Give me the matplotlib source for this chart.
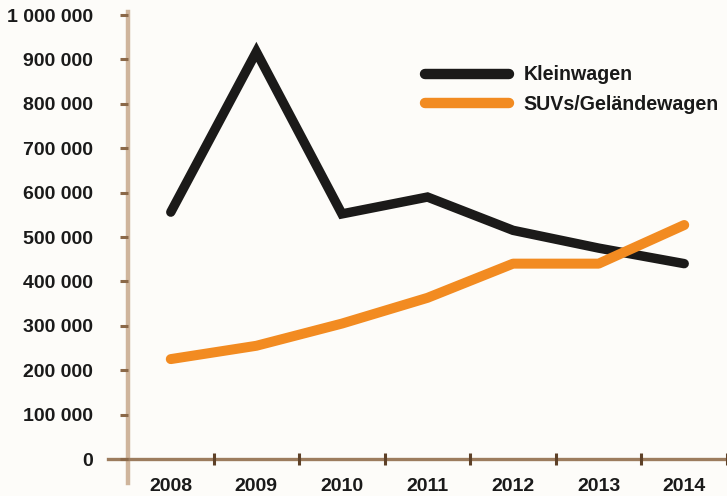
import matplotlib.pyplot as plt
from matplotlib.ticker import FuncFormatter

years = [2008, 2009, 2010, 2011, 2012, 2013, 2014]
kleinwagen = [556000, 917000, 552000, 590000, 515000, 475000, 440000]
suv = [225000, 255000, 305000, 363000, 440000, 440000, 527000]
labels = ['Kleinwagen', 'SUVs/Geländewagen']

plt.rcParams['font.family'] = ['Liberation Sans', 'DejaVu Sans']

bg = '#fdfcf9'
fig = plt.figure(figsize=(7.27, 4.96), dpi=100, facecolor=bg)
ax = fig.add_axes([128 / 727, 37 / 496, 599 / 727, 444 / 496])
ax.set_facecolor(bg)

l1, = ax.plot(years, kleinwagen, color='#1b1a19', lw=6.8,
              solid_capstyle='round', solid_joinstyle='miter')
l2, = ax.plot(years, suv, color='#f28b21', lw=7.2,
              solid_capstyle='round', solid_joinstyle='round')

ax.set_xlim(2007.5, 2014.5)
ax.set_ylim(0, 1000000)

for s in ax.spines.values():
    s.set_visible(False)
# axis lines, crossing at origin
ax.plot([0, 0], [-0.054, 1.007], transform=ax.transAxes, clip_on=False,
        color='#cfb59c', lw=3.2, zorder=1)
ax.plot([-0.033, 1.0], [0, 0], transform=ax.transAxes, clip_on=False,
        color='#9c7c5e', lw=2.4, zorder=1)

ax.set_yticks(range(0, 1000001, 100000))
ax.yaxis.set_major_formatter(FuncFormatter(lambda v, p: f'{int(v):,}'.replace(',', ' ')))
ax.tick_params(axis='y', direction='out', length=6, width=2.2, color='#8a6848',
               pad=19, labelsize=14, labelcolor='#1a1a1a')

ax.set_xticks(years)
ax.set_xticks([y + 0.5 for y in years], minor=True)
ax.tick_params(axis='x', which='major', length=0, pad=14, labelsize=14,
               labelcolor='#1a1a1a')
ax.tick_params(axis='x', which='minor', direction='inout', length=9,
               width=2.2, color='#5e4128')
for t in ax.get_xticklabels() + ax.get_yticklabels():
    t.set_fontweight('bold')

leg = fig.legend([l1, l2], labels, loc='upper left',
                 bbox_to_anchor=(425 / 727, 1 - 65.5 / 496), frameon=False,
                 borderpad=0, borderaxespad=0, handlelength=4.3,
                 handletextpad=0.72, labelspacing=0.55,
                 prop={'size': 14.1, 'weight': 'bold'})
for h in leg.get_lines():
    h.set_linewidth(7.5)
    h.set_solid_capstyle('round')
for t in leg.get_texts():
    t.set_color('#1a1a1a')

fig.savefig('out.png', dpi=100, facecolor=bg)
